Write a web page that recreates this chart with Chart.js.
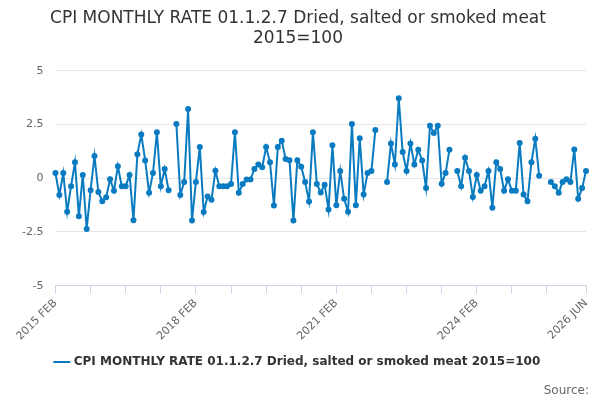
<!DOCTYPE html>
<html>
<head>
<meta charset="utf-8">
<script src="https://cdn.jsdelivr.net/npm/chart.js@4"></script>
<style>
body{margin:0;background:#fff;font-family:"DejaVu Sans",sans-serif}
#wrap{position:relative;width:600px;height:400px}
#src{position:absolute;right:11px;bottom:3px;font-size:12px;color:#666}
</style>
</head>
<body>
<div id="wrap">
<canvas id="cpi" width="600" height="400"></canvas>
<div id="src">Source:</div>
</div>
<script>
const seriesName = "CPI MONTHLY RATE 01.1.2.7 Dried, salted or smoked meat 2015=100";
const monthNames = ["JAN","FEB","MAR","APR","MAY","JUN","JUL","AUG","SEP","OCT","NOV","DEC"];
const yTicks = [-5, -2.5, 0, 2.5, 5];
const rates = [
  0.24,-0.78,0.24,-1.56,-0.37,0.74,-1.77,0.15,-2.36,-0.56,
  1.03,-0.64,-1.07,-0.89,-0.05,-0.58,0.56,-0.37,-0.37,0.15,
  -1.96,1.12,2.03,0.83,-0.67,0.24,2.14,-0.37,0.43,-0.56,
  null,2.52,-0.78,-0.17,3.22,-1.97,-0.17,1.45,-1.57,-0.85,
  -1.0,0.35,-0.37,-0.37,-0.37,-0.27,2.14,-0.67,-0.27,-0.06,
  -0.06,0.43,0.64,0.51,1.45,0.74,-1.27,1.45,1.75,0.9,
  0.84,-1.97,0.84,0.54,-0.17,-1.08,2.14,-0.27,-0.66,-0.3,
  -1.46,1.53,-1.26,0.34,-0.96,-1.56,2.52,-1.26,1.86,-0.76,
  0.24,0.34,2.24,null,null,
  -0.17,1.62,0.64,3.72,1.22,0.34,1.62,0.64,1.33,0.83,-0.46,2.44,2.11,2.44,-0.26,0.24,1.33,
  null,
  0.34,-0.37,0.95,0.34,-0.87,0.15,-0.58,-0.37,0.34,-1.37,0.74,0.43,-0.58,-0.05,-0.58,-0.58,1.64,-0.76,-1.07,0.74,1.84,0.12,
  null,null,
  -0.17,-0.37,-0.67,-0.17,-0.05,-0.17,1.34,-0.96,-0.46,0.34
];

// month labels from 2015 FEB onward
const months = [];
for (let i = 0; i < rates.length; i++) {
  const m = 1 + i;
  months.push((2015 + Math.floor(m / 12)) + " " + monthNames[m % 12]);
}
const last = months.length - 1;

new Chart(document.getElementById("cpi"), {
  type: "line",
  data: {
    labels: months,
    datasets: [{
      label: seriesName,
      data: rates,
      borderColor: "#0a7bc1",
      backgroundColor: "#0a7bc1",
      borderWidth: 2,
      pointRadius: 2,
      pointHoverRadius: 3,
      spanGaps: false,
      tension: 0
    }]
  },
  options: {
    responsive: false,
    animation: false,
    layout: {padding: {left: 10, right: 14, top: 0, bottom: 22}},
    plugins: {
      title: {
        display: true,
        text: ["CPI MONTHLY RATE 01.1.2.7 Dried, salted or smoked meat", "2015=100"],
        color: "#333",
        font: {family: "DejaVu Sans", size: 17, weight: "normal"},
        padding: {top: 8, bottom: 22},
        lineHeight: 1.2
      },
      legend: {
        position: "bottom",
        labels: {
          color: "#333",
          font: {family: "DejaVu Sans", size: 12, weight: "bold"},
          usePointStyle: true,
          pointStyle: "line",
          boxWidth: 20,
          padding: 10
        }
      },
      tooltip: {enabled: false}
    },
    scales: {
      x: {
        grid: {display: true, drawOnChartArea: false, drawTicks: true, tickLength: 8, color: "#ccd6eb"},
        border: {color: "#ccd6eb"},
        ticks: {
          autoSkip: false,
          maxRotation: 45,
          minRotation: 45,
          color: "#666",
          font: {family: "DejaVu Sans", size: 11},
          callback: function(v, i) {
            if (i % 36 === 0 || i === last) return months[i];
            if (i % 9 === 0 && i < last - 5) return "";
            return null;
          }
        }
      },
      y: {
        min: -5,
        max: 5,
        afterBuildTicks: axis => { axis.ticks = yTicks.map(v => ({value: v})); },
        grid: {color: "#e6e6e6", drawTicks: false},
        border: {display: false},
        ticks: {
          color: "#666",
          padding: 12,
          font: {family: "DejaVu Sans", size: 11},
          callback: v => String(v)
        }
      }
    }
  }
});
</script>
</body>
</html>
